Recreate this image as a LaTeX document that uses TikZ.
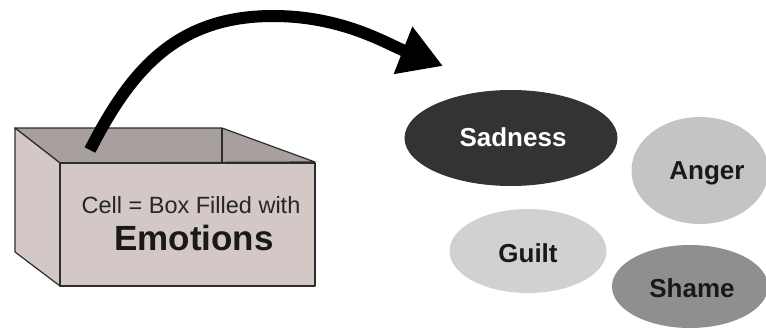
\documentclass[tikz,border=0pt]{standalone}
\usepackage{fontspec}
\setmainfont{Liberation Sans}
\usetikzlibrary{arrows.meta,shapes.geometric}
\definecolor{boxface}{RGB}{211,200,197}
\definecolor{boxinside}{RGB}{168,160,158}
\definecolor{boxline}{RGB}{45,45,45}
\tikzset{
	emotion/.style={ellipse, inner sep=0pt},
	emotext/.style={font=\fontsize{26}{30}\selectfont\bfseries, text=black!90},
	boxedge/.style={draw=boxline, line width=1.2pt, line join=round}
}

\begin{document}
\begin{tikzpicture}[x=1pt, y=-1pt]
			%%%%% START %%%%%
			\useasboundingbox (0, 0) rectangle (766, 329);
			\clip (0, 0) rectangle (766, 329);
			
			\draw[boxedge, fill=boxinside] (15, 128) -- (222, 128) -- (315, 162) -- (60, 163) -- cycle;
			\draw[boxedge] (222, 128) -- (222, 163);
			\draw[boxedge, fill=boxface] (15, 128) -- (60, 163) -- (60, 286) -- (15, 252) -- cycle;
			\draw[boxedge, fill=boxface] (60, 163) rectangle (315, 286);
			
			\node[anchor=base, font=\fontsize{23.5}{28}\selectfont, text=black!85] (celltext) at (191, 213) {Cell = Box Filled with};
			\node[anchor=base, font=\fontsize{35}{40}\selectfont\bfseries, text=black!90] (emotext) at (194, 250) {Emotions};
			
			\coordinate (arrowstart) at (90, 150);
			\coordinate (arrowtop) at (273, 16);
			\coordinate (arrowend) at (443, 66);
			\draw[line width=12pt, -{Triangle[length=43pt, width=48pt]}] (arrowstart) .. controls (130, 72) and (175, 16) .. (arrowtop) .. controls (343, 16) and (387, 44) .. (arrowend);
			
			\node[emotion, fill=black!80, minimum width=213pt, minimum height=96pt] (sadness) at (511, 138) {};
			\node[emotext, text=white] (sadtext) at (513, 137) {Sadness};
			\node[emotion, fill=black!23, minimum width=137pt, minimum height=107pt] (anger) at (700, 170.5) {};
			\node[emotext] (angtext) at (707, 173) {Anger};
			\node[emotion, fill=black!18, minimum width=157pt, minimum height=84pt] (guilt) at (528, 251) {};
			\node[emotext] (guilttext) at (528, 253) {Guilt};
			\node[emotion, fill=black!44, minimum width=156pt, minimum height=83pt] (shame) at (690, 286.5) {};
			\node[emotext] (shametext) at (692, 288) {Shame};
			
			%%%%% END %%%%%
\end{tikzpicture}
\end{document}
